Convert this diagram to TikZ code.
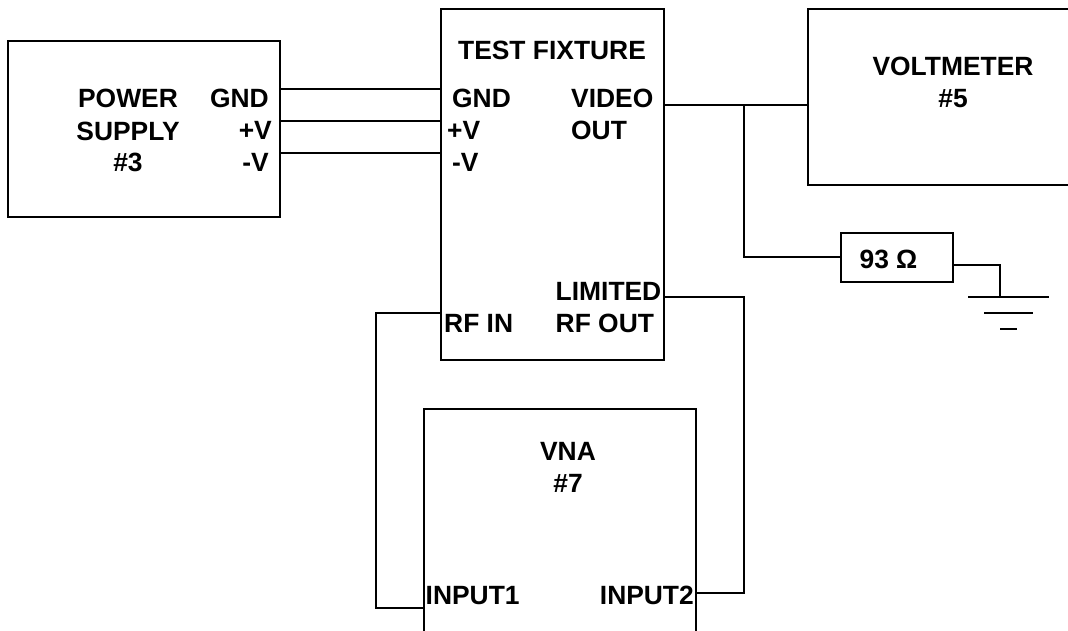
\documentclass[tikz,border=0pt]{standalone}
\usepackage{fontspec}
\setmainfont{Liberation Sans}
\begin{document}
\begin{tikzpicture}[x=1pt,y=-1pt,
  wire/.style={draw=black,line width=1.7pt},
  lab/.style={font=\fontsize{26.4}{32}\selectfont\bfseries,inner sep=0pt,align=center,text=black,anchor=base},
  labl/.style={lab,anchor=base west},
  labr/.style={lab,anchor=base east}]
\useasboundingbox (0,0) rectangle (1068,631);
\coordinate (psTL) at (8,41); \coordinate (psBR) at (280,217);
\draw[wire] (psTL) rectangle (psBR);
\coordinate (tfTL) at (441,9); \coordinate (tfBR) at (664,360);
\draw[wire] (tfTL) rectangle (tfBR);
\coordinate (vA) at (1069,9); \coordinate (vB) at (808,9); \coordinate (vC) at (808,185); \coordinate (vD) at (1069,185);
\draw[wire] (vA) -- (vB) -- (vC) -- (vD);
\coordinate (naA) at (424,632); \coordinate (naB) at (424,409); \coordinate (naC) at (696,409); \coordinate (naD) at (696,632);
\draw[wire] (naA) -- (naB) -- (naC) -- (naD);
\node[wire,minimum width=112pt,minimum height=49pt,inner sep=0pt,anchor=north west] (res) at (840,232) {};
\node[lab] (ps) at (128,172) {POWER\\SUPPLY\\\#3};
\node[labr] (ps1) at (269,108) {GND};
\node[labr] (ps2) at (272,140) {+V};
\node[labr] (ps3) at (269,172) {-V};
\node[lab] (tf) at (552,60) {TEST FIXTURE};
\node[labl] (t1) at (452,108) {GND};
\node[labl] (t2) at (447,140) {+V};
\node[labl] (t3) at (452,172) {-V};
\node[labl,align=left] (t4) at (571,140) {VIDEO\\OUT};
\node[labl] (t5) at (444,332) {RF IN};
\node[labl,align=left] (t6) at (555.5,332) {LIMITED\\RF OUT};
\node[lab] (vm) at (953,108) {VOLTMETER\\\#5};
\node[lab] (ohm) at (888.5,268) {93 Ω};
\node[lab] (vna) at (568,492) {VNA\\\#7};
\node[labl] (i1) at (425.5,604) {INPUT1};
\node[labr] (i2) at (694,604) {INPUT2};
\coordinate (g) at (1000,297);
\draw[wire] (psBR |- 0,89) -- (tfTL |- 0,89);
\draw[wire] (psBR |- 0,121) -- (tfTL |- 0,121);
\draw[wire] (psBR |- 0,153) -- (tfTL |- 0,153);
\draw[wire] (tfBR |- 0,105) -- (vB |- 0,105);
\draw[wire] (744,105) -- (744,257) -- (res.west |- 0,257);
\draw[wire] (res.east |- 0,265) -- (1000,265) -- (g);
\draw[wire] (968,297) -- (1049,297);
\draw[wire] (984,313) -- (1033,313);
\draw[wire] (1000,329) -- (1017,329);
\draw[wire] (tfTL |- 0,313) -- (376,313) -- (376,608) -- (naB |- 0,608);
\draw[wire] (tfBR |- 0,297) -- (744,297) -- (744,593) -- (naC |- 0,593);
\end{tikzpicture}
\end{document}
